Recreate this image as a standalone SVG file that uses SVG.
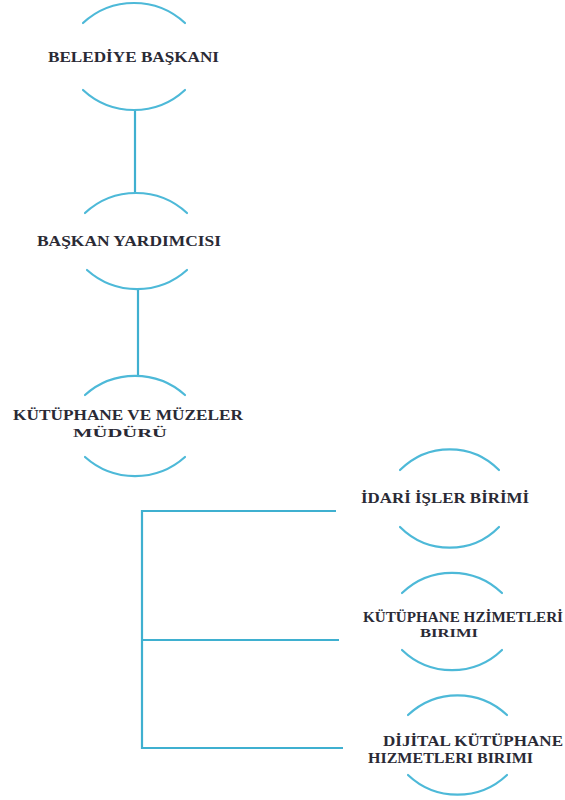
<svg xmlns="http://www.w3.org/2000/svg" width="565" height="800" viewBox="0 0 565 800">
<style>
.arc{fill:none;stroke:#4db9d8;stroke-width:2.2;stroke-linecap:round}
.con{fill:none;stroke:#3fb0d0;stroke-width:2.2}
.lbl{font-family:"Liberation Serif","Times New Roman",serif;font-weight:bold;font-size:14px;fill:#2a2a35}
.sm{font-size:13px}
</style>
<rect width="565" height="800" fill="#ffffff"/>
<g id="connectors">
<line class="con" x1="135" y1="110" x2="135" y2="193"/>
<line class="con" x1="138" y1="290" x2="138" y2="375"/>
<path class="con" d="M336,511 H142 V748 H343"/>
<path class="con" d="M142,640 H339"/>
</g>
<g id="node-belediye-baskani">
<path class="arc" d="M83,23 A75,75 0 0 1 185,23"/>
<path class="arc" d="M83,90 A75,75 0 0 0 185,90"/>
<text class="lbl" x="48" y="62" textLength="171" lengthAdjust="spacingAndGlyphs">BELEDİYE BAŞKANI</text>
</g>
<g id="node-baskan-yardimcisi">
<path class="arc" d="M85,213 A75,75 0 0 1 187,213"/>
<path class="arc" d="M87,270 A75,75 0 0 0 187,270"/>
<text class="lbl" x="37" y="246" textLength="184" lengthAdjust="spacingAndGlyphs">BAŞKAN YARDIMCISI</text>
</g>
<g id="node-kutuphane-muzeler-muduru">
<path class="arc" d="M85,395 A75,75 0 0 1 185,395"/>
<path class="arc" d="M85,457 A75,75 0 0 0 185,457"/>
<text class="lbl" x="13" y="420" textLength="230" lengthAdjust="spacingAndGlyphs">KÜTÜPHANE VE MÜZELER</text>
<text class="lbl sm" x="73" y="437" textLength="94" lengthAdjust="spacingAndGlyphs">MÜDÜRÜ</text>
</g>
<g id="node-idari-isler">
<path class="arc" d="M400,470 A70,70 0 0 1 499,470"/>
<path class="arc" d="M400,527 A70,70 0 0 0 499,527"/>
<text class="lbl" x="361" y="503" textLength="168" lengthAdjust="spacingAndGlyphs">İDARİ İŞLER BİRİMİ</text>
</g>
<g id="node-kutuphane-hizmetleri">
<path class="arc" d="M402,593 A72,72 0 0 1 502,593"/>
<path class="arc" d="M402,650 A72,72 0 0 0 502,650"/>
<text class="lbl" x="363" y="622" textLength="200" lengthAdjust="spacingAndGlyphs">KÜTÜPHANE HZİMETLERİ</text>
<text class="lbl sm" x="420" y="637" textLength="58" lengthAdjust="spacingAndGlyphs">BIRIMI</text>
</g>
<g id="node-dijital-kutuphane">
<path class="arc" d="M408,715 A72,72 0 0 1 507,715"/>
<path class="arc" d="M408,775 A72,72 0 0 0 507,775"/>
<text class="lbl" x="383" y="746" textLength="180" lengthAdjust="spacingAndGlyphs">DİJİTAL KÜTÜPHANE</text>
<text class="lbl" x="368" y="763" textLength="165" lengthAdjust="spacingAndGlyphs">HIZMETLERI BIRIMI</text>
</g>
</svg>
